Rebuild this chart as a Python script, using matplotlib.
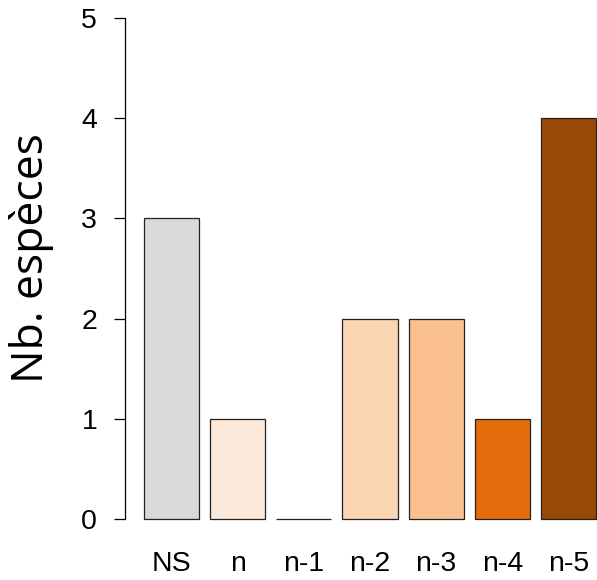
import matplotlib.pyplot as plt

categories = ['NS', 'n', 'n-1', 'n-2', 'n-3', 'n-4', 'n-5']
counts = [3, 1, 0, 2, 2, 1, 4]
colors = ['#d9d9d9', '#fde9d9', '#ffffff', '#fcd5b4', '#fac090', '#e46c0a', '#984807']

W, H = 597, 580
fig = plt.figure(figsize=(W / 100, H / 100), dpi=100)

# axes placed in pixel terms: y axis at x=125, 0 at y=519, 5 at y=18
left, bottom, top = 125, 519, 18
ax = fig.add_axes([left / W, (H - bottom) / H, (W - left) / W, (bottom - top) / H])

# R-like barplot: width 1, space 0.2
x = [0.7 + 1.2 * i for i in range(len(counts))]
ax.bar(x, counts, width=1, color=colors, edgecolor='#222222', linewidth=0.9, clip_on=False)

ax.set_xlim(-0.145, 8.42)
ax.set_ylim(0, 5)

for s in ['top', 'right', 'bottom']:
    ax.spines[s].set_visible(False)
ax.spines['left'].set_linewidth(0.9)

ax.set_yticks(range(6))
ax.tick_params(axis='y', length=8, width=0.9, pad=12, labelsize=20.5)
ax.set_xticks(x)
ax.set_xticklabels(categories)
ax.tick_params(axis='x', length=0, pad=23, labelsize=20.5)
for lab in ax.get_xticklabels() + ax.get_yticklabels():
    lab.set_fontfamily('Liberation Sans')

fig.text(32 / W, 1 - 258 / H, 'Nb. espèces', rotation=90, ha='center', va='center',
         fontsize=32, fontfamily='Open Sans')

fig.savefig('out.png', dpi=100)
